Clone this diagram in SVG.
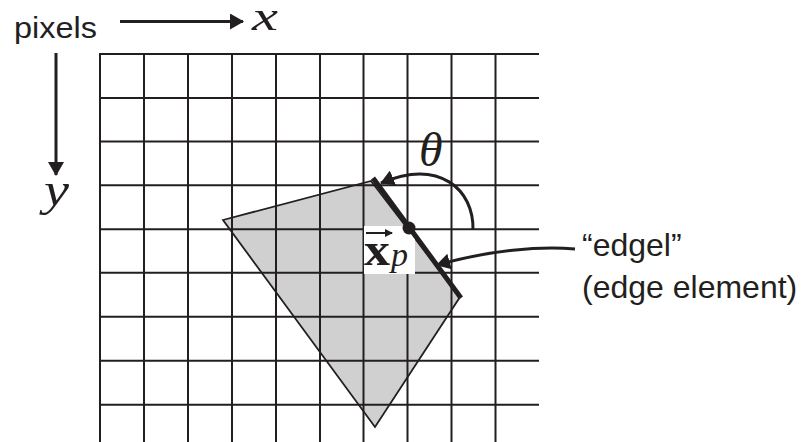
<svg xmlns="http://www.w3.org/2000/svg" width="804" height="442" viewBox="0 0 804 442">
<style>
.grid line{stroke:#231f20;stroke-width:2}
.sans{font-family:"Liberation Sans",Arial,sans-serif;fill:#231f20}
.math{font-family:"Liberation Serif","Times New Roman",serif;font-style:italic;fill:#231f20}
.conn{fill:none;stroke:#231f20;stroke-width:3}
</style>
<defs>
<marker id="ah" markerUnits="userSpaceOnUse" markerWidth="14" markerHeight="16" refX="13" refY="8" orient="auto">
<path d="M0,0 L14,8 L0,16 z" fill="#231f20"/>
</marker>
<marker id="ahs" markerUnits="userSpaceOnUse" markerWidth="8" markerHeight="8" refX="7" refY="4" orient="auto">
<path d="M0,0 L8,4 L0,8 z" fill="#231f20"/>
</marker>
</defs>
<rect width="804" height="442" fill="#fff"/>
<g id="shape">
<polygon points="223,220 371,181 460,297 375,427" fill="#d0d0d0"/>
</g>
<g id="grid" class="grid">
<line x1="100" y1="53" x2="100" y2="442"/>
<line x1="144" y1="53" x2="144" y2="442"/>
<line x1="188" y1="53" x2="188" y2="442"/>
<line x1="232" y1="53" x2="232" y2="442"/>
<line x1="276" y1="53" x2="276" y2="442"/>
<line x1="320" y1="53" x2="320" y2="442"/>
<line x1="363.5" y1="53" x2="363.5" y2="442"/>
<line x1="407.5" y1="53" x2="407.5" y2="442"/>
<line x1="451.5" y1="53" x2="451.5" y2="442"/>
<line x1="495.5" y1="53" x2="495.5" y2="442"/>
<line x1="99" y1="54" x2="539" y2="54"/>
<line x1="99" y1="98" x2="539" y2="98"/>
<line x1="99" y1="141.5" x2="539" y2="141.5"/>
<line x1="99" y1="185.3" x2="539" y2="185.3"/>
<line x1="99" y1="229.3" x2="539" y2="229.3"/>
<line x1="99" y1="272.8" x2="539" y2="272.8"/>
<line x1="99" y1="316.7" x2="539" y2="316.7"/>
<line x1="99" y1="360.8" x2="539" y2="360.8"/>
<line x1="99" y1="404.8" x2="539" y2="404.8"/>
</g>
<g id="shape-outline">
<polygon points="223,220 371,181 460,297 375,427" fill="none" stroke="#231f20" stroke-width="1.8" stroke-linejoin="miter"/>
</g>
<g id="xp-label">
<rect x="364" y="226" width="51" height="48" fill="#fff"/>
<line x1="366" y1="233" x2="392" y2="233" stroke="#231f20" stroke-width="2" marker-end="url(#ahs)"/>
<text x="364" y="265" font-family="'Liberation Serif','Times New Roman',serif" font-weight="bold" font-size="46" fill="#231f20" textLength="26" lengthAdjust="spacingAndGlyphs">x</text>
<text x="391" y="266" class="math" font-size="34">p</text>
</g>
<g id="edgel">
<line x1="373" y1="178" x2="461" y2="298" stroke="#231f20" stroke-width="5"/>
<circle cx="409" cy="228" r="6.5" fill="#231f20"/>
</g>
<g id="connectors">
<path class="conn" d="M120,21.5 H243" marker-end="url(#ah)"/>
<path class="conn" d="M56,53 V175" marker-end="url(#ah)"/>
<path class="conn" d="M473,230 C474,190 440,158 381,183" marker-end="url(#ah)"/>
<path class="conn" d="M575,249 C540,246 490,250 437,265" marker-end="url(#ah)"/>
</g>
<g id="labels">
<text x="14" y="38" class="sans" font-size="30" textLength="83" lengthAdjust="spacingAndGlyphs">pixels</text>
<text x="252" y="30" class="math" font-size="42" textLength="26" lengthAdjust="spacingAndGlyphs">x</text>
<text x="44" y="205" class="math" font-size="46" textLength="25" lengthAdjust="spacingAndGlyphs">y</text>
<text x="419" y="166" class="math" font-size="48">θ</text>
<text x="582" y="256" class="sans" font-size="32">“edgel”</text>
<text x="582" y="298" class="sans" font-size="32">(edge element)</text>
</g>
</svg>
